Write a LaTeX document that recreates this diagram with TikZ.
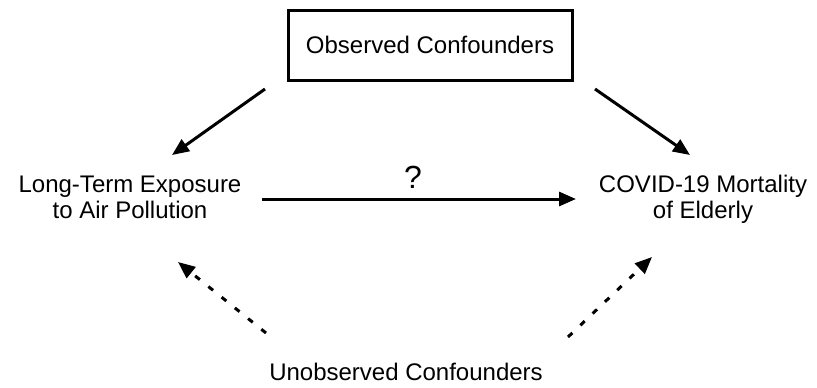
\documentclass[tikz,border=0pt]{standalone}
\usepackage{fontspec}
\setmainfont{Liberation Sans}
\usetikzlibrary{arrows.meta, positioning}

\begin{document}
\begin{tikzpicture}[x=0.5pt, y=-0.5pt, >={Triangle[length=8.5pt, width=7pt]},
      lbl/.style={font=\fontsize{12}{13}\selectfont, align=center, inner sep=0pt},
      cbox/.style={lbl, draw, line width=1.5pt, minimum width=142pt, minimum height=35pt},
      arr/.style={->, line width=1.5pt},
      darr/.style={arr, dash pattern=on 3pt off 5.5pt}]

    \useasboundingbox (0,0) rectangle (817,387);

    % Variables
    \node[cbox] (obs)   at (430, 45)  {Observed Confounders};
    \node[lbl]  (expo)  at (130, 197) {Long-Term Exposure\\to Air Pollution};
    \node[lbl]  (mort)  at (703, 199) {COVID-19 Mortality\\of Elderly};
    \node[lbl, font=\fontsize{16}{18}\selectfont, anchor=base] (q) at (413, 188) {?};
    \node[lbl, anchor=base] (unobs) at (406, 380) {Unobserved Confounders};

    % Observed paths
    \draw[arr] ([shift={(-165,44)}]obs.center) -- ([shift={(42,-42)}]expo.center);
    \draw[arr] ([shift={(165,44)}]obs.center)  -- ([shift={(-13,-44)}]mort.center);
    \draw[arr] ([shift={(132,2)}]expo.center)  -- ([shift={(-127,0)}]mort.center);

    % Unobserved paths
    \draw[darr] ([shift={(-140,-47)}]unobs.base) -- ([shift={(48,65)}]expo.center);
    \draw[darr] ([shift={(162,-43)}]unobs.base)  -- ([shift={(-51,58)}]mort.center);

\end{tikzpicture}
\end{document}
